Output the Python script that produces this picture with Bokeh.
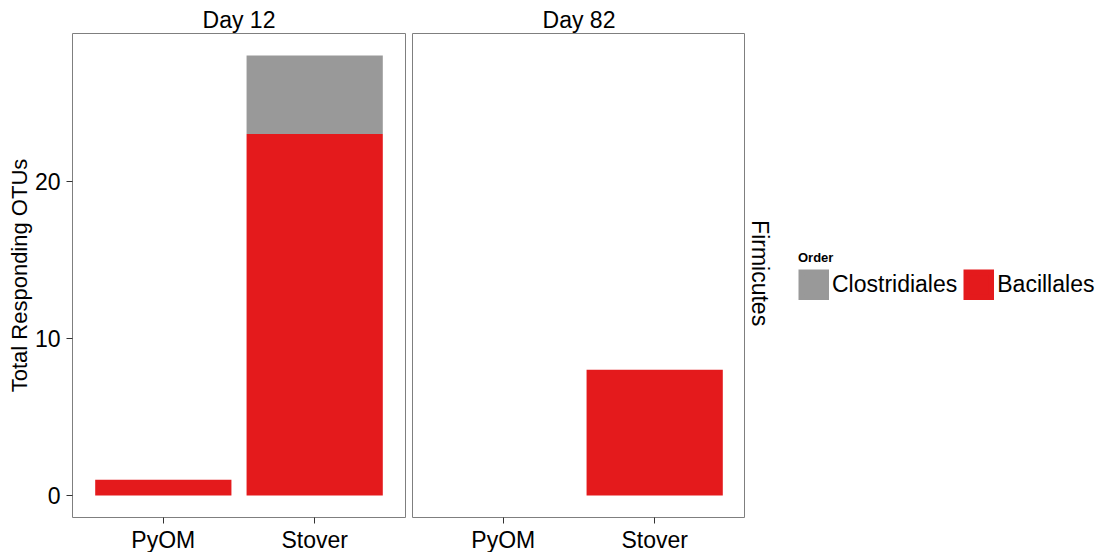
import math

from bokeh.embed import file_html
from bokeh.layouts import row
from bokeh.models import (ColumnDataSource, FixedTicker, Label, Legend,
                          LegendItem, Range1d, Title)
from bokeh.plotting import figure
from bokeh.resources import INLINE

# Responding OTU counts per treatment, split by order (phylum Firmicutes)
days = ["Day 12", "Day 82"]
treatments = ["PyOM", "Stover"]
orders = ["Clostridiales", "Bacillales"]
order_colors = ["#999999", "#E41A1C"]
bacillales_day12 = [1, 23]
clostridiales_day12 = [0, 5]
bacillales_day82 = [0, 8]
clostridiales_day82 = [0, 0]
y_ticks = [0, 10, 20]
phylum = "Firmicutes"

FONT = "Liberation Sans"
FS = "23px"
x_pos = [i + 1 for i in range(len(treatments))]
x_lo, x_hi = 0.4, len(treatments) + 0.6
y_max = max(b + c for b, c in zip(bacillales_day12 + bacillales_day82,
                                    clostridiales_day12 + clostridiales_day82))
pad = 0.05 * y_max
y_lo, y_hi = -pad, y_max + pad


def panel(day, bac, clo, show_y):
    p = figure(frame_width=333, frame_height=484,
               x_range=Range1d(x_lo, x_hi), y_range=Range1d(y_lo, y_hi),
               output_backend="svg", toolbar_location=None,
               min_border_left=72 if show_y else 3,
               min_border_right=4 if show_y else 0,
               min_border_top=33, min_border_bottom=35)
    p.background_fill_color = "white"
    p.border_fill_color = "white"
    p.outline_line_color = "#7f7f7f"
    p.outline_line_width = 1
    p.xgrid.visible = False
    p.ygrid.visible = False

    src = ColumnDataSource(dict(x=x_pos, Bacillales=bac, Clostridiales=clo))
    # Bacillales at the base, Clostridiales stacked above
    p.vbar_stack(["Bacillales", "Clostridiales"], x="x", width=0.9,
                 source=src, color=[order_colors[1], order_colors[0]],
                 line_color=None)

    xa = p.xaxis[0]
    xa.ticker = FixedTicker(ticks=x_pos)
    xa.major_label_overrides = {x: t for x, t in zip(x_pos, treatments)}
    xa.axis_line_color = None
    xa.major_tick_line_color = "#333333"
    xa.major_tick_in = 0
    xa.major_tick_out = 6
    xa.minor_tick_line_color = None
    xa.major_label_standoff = 3
    xa.major_label_text_font = FONT
    xa.major_label_text_font_size = FS
    xa.major_label_text_color = "black"

    ya = p.yaxis[0]
    ya.ticker = FixedTicker(ticks=y_ticks)
    if show_y:
        ya.axis_line_color = None
        ya.major_tick_line_color = "#333333"
        ya.major_tick_in = 0
        ya.major_tick_out = 6
        ya.minor_tick_line_color = None
        ya.major_label_standoff = 6
        ya.major_label_text_font = FONT
        ya.major_label_text_font_size = FS
        ya.major_label_text_color = "black"
        ya.axis_label = "Total Responding OTUs"
        ya.axis_label_text_font = FONT
        ya.axis_label_text_font_size = "22px"
        ya.axis_label_text_font_style = "normal"
        ya.axis_label_text_color = "black"
        ya.axis_label_standoff = 0
    else:
        ya.visible = False

    # facet strip title
    p.add_layout(Title(text=day, align="center", text_font=FONT,
                       text_font_size=FS, text_font_style="normal",
                       text_color="black", standoff=2), "above")
    return p


p1 = panel(days[0], bacillales_day12, clostridiales_day12, True)
p2 = panel(days[1], bacillales_day82, clostridiales_day82, False)

# right-hand area: row strip label and the legend
side_w, side_h = 358, 552
p3 = figure(width=side_w, height=side_h, x_range=Range1d(0, side_w),
            y_range=Range1d(0, side_h), output_backend="svg",
            toolbar_location=None, min_border=0, title=None)
p3.axis.visible = False
p3.grid.visible = False
p3.outline_line_color = None
p3.background_fill_color = "white"
p3.border_fill_color = "white"

p3.add_layout(Label(x=14, y=277, text=phylum, angle=-math.pi / 2,
                    text_align="center", text_baseline="middle",
                    text_font=FONT, text_font_size=FS, text_color="black"))

# key swatches: renderers with no visible extent, used only by the legend;
# a matching outline fills the swatch out to the full key size
key_src = ColumnDataSource(dict(x=[float("nan")], top=[float("nan")]))
items = []
for name, col in zip(orders, order_colors):
    r = p3.vbar(x="x", top="top", width=1, source=key_src, fill_color=col,
                line_color=col, line_width=6.2, line_join="miter")
    items.append(LegendItem(label=name, renderers=[r]))

legend = Legend(items=items, location=(53, 214), orientation="horizontal",
                title="Order", title_text_font=FONT,
                title_text_font_size="13px", title_text_font_style="bold",
                title_text_color="black", title_standoff=4,
                label_text_font=FONT, label_text_font_size=FS,
                label_text_color="black", label_standoff=3,
                glyph_width=31, glyph_height=31, spacing=6,
                padding=0, margin=0, border_line_color=None,
                background_fill_alpha=0)
p3.add_layout(legend)

layout = row(p1, p2, p3)
open("out.html", "w").write(file_html(layout, INLINE))
